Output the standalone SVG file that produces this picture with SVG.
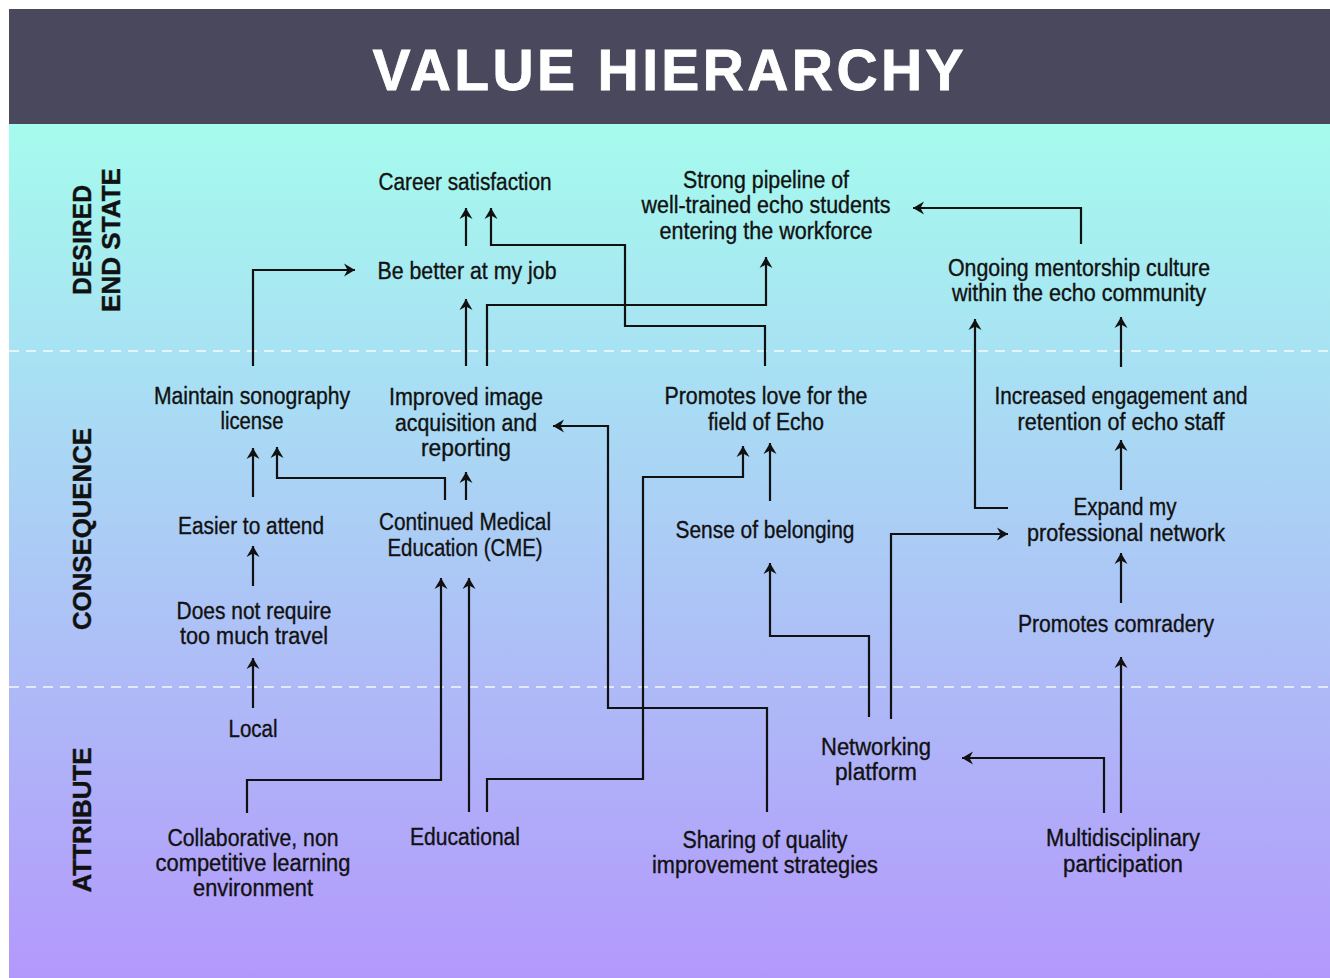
<svg xmlns="http://www.w3.org/2000/svg" width="1330" height="978" viewBox="0 0 1330 978">
  <defs>
    <linearGradient id="bg" x1="0" y1="124" x2="0" y2="978" gradientUnits="userSpaceOnUse">
      <stop offset="0" stop-color="#a5fbed"/>
      <stop offset="0.27" stop-color="#a8e2f3"/>
      <stop offset="0.66" stop-color="#aebaf7"/>
      <stop offset="1" stop-color="#b398fc"/>
    </linearGradient>
    <marker id="arrow" viewBox="-12 -7 13 14" refX="0" refY="0" markerWidth="13" markerHeight="14" markerUnits="userSpaceOnUse" orient="auto">
      <path d="M0,0 L-11,-6.5 L-7.5,0 L-11,6.5 Z" fill="#111"/>
    </marker>
    <style>
      .node text { font-family: "Liberation Sans", Arial, sans-serif; font-size: 23.5px; fill: #111; stroke: #111; stroke-width: 0.35px; text-anchor: middle; }
      .band { font-family: "Liberation Sans", Arial, sans-serif; font-weight: bold; font-size: 26px; fill: #111; stroke: #111; stroke-width: 0.4px; text-anchor: middle; }
      .title { font-family: "Liberation Sans", Arial, sans-serif; font-weight: bold; font-size: 57px; fill: #ffffff; stroke: #ffffff; stroke-width: 0.8px; text-anchor: middle; }
      .divider { stroke: #ffffff; stroke-width: 1.6; stroke-dasharray: 10 7; opacity: 0.9; }
      #connectors path { fill: none; stroke: #111; stroke-width: 2.2; }
      #connectors path.arr { marker-end: url(#arrow); }
    </style>
  </defs>

  <!-- page and bands -->
  <rect x="0" y="0" width="1330" height="978" fill="#ffffff"/>
  <rect x="9" y="124" width="1321" height="854" fill="url(#bg)"/>
  <rect x="9" y="9" width="1321" height="115" fill="#4a485c"/>
  <text class="title" x="668" y="90" textLength="591" lengthAdjust="spacing">VALUE HIERARCHY</text>

  <line class="divider" x1="9" y1="351" x2="1330" y2="351"/>
  <line class="divider" x1="9" y1="687" x2="1330" y2="687"/>

  <!-- level labels -->
  <g id="levels">
    <text class="band" transform="translate(91,240) rotate(-90)" textLength="110" lengthAdjust="spacingAndGlyphs">DESIRED</text>
    <text class="band" transform="translate(120,240) rotate(-90)" textLength="144" lengthAdjust="spacingAndGlyphs">END STATE</text>
    <text class="band" transform="translate(91,529) rotate(-90)" textLength="202" lengthAdjust="spacingAndGlyphs">CONSEQUENCE</text>
    <text class="band" transform="translate(91,820) rotate(-90)" textLength="145" lengthAdjust="spacingAndGlyphs">ATTRIBUTE</text>
  </g>

  <!-- connectors -->
  <g id="connectors">
    <path class="arr" d="M466,246 V208"/>
    <path class="arr" d="M765,366 V326 H625 V245 H491 V208"/>
    <path class="arr" d="M466,366 V299"/>
    <path class="arr" d="M487,366 V305 H766 V257"/>
    <path class="arr" d="M253,366 V270 H355"/>
    <path class="arr" d="M1081,244 V208 H913"/>
    <path class="arr" d="M1121,367 V317"/>
    <path class="arr" d="M1008,508 H975 V319"/>
    <path class="arr" d="M1121,490 V440"/>
    <path class="arr" d="M1121,603 V553"/>
    <path class="arr" d="M1121,813 V657"/>
    <path class="arr" d="M1104,813 V758 H962"/>
    <path class="arr" d="M891,719 V534 H1008"/>
    <path class="arr" d="M869,717 V636 H770 V563"/>
    <path class="arr" d="M770,501 V443"/>
    <path class="arr" d="M487,812 V779 H643 V477 H743 V446"/>
    <path class="arr" d="M767,812 V708 H608 V426 H553"/>
    <path class="arr" d="M469,812 V578"/>
    <path class="arr" d="M247,813 V780 H441 V578"/>
    <path class="arr" d="M466,500 V472"/>
    <path class="arr" d="M445,500 V478 H277 V447"/>
    <path class="arr" d="M253,497 V448"/>
    <path class="arr" d="M253,586 V546"/>
    <path class="arr" d="M253,708 V658"/>
  </g>

  <!-- desired end state -->
  <g id="career-satisfaction" class="node">
    <text x="465" y="190" textLength="173" lengthAdjust="spacingAndGlyphs">Career satisfaction</text>
  </g>
  <g id="better-at-job" class="node">
    <text x="467" y="279" textLength="179" lengthAdjust="spacingAndGlyphs">Be better at my job</text>
  </g>
  <g id="strong-pipeline" class="node">
    <text x="766" y="188" textLength="166" lengthAdjust="spacingAndGlyphs">Strong pipeline of</text>
    <text x="766" y="213" textLength="249" lengthAdjust="spacingAndGlyphs">well-trained echo students</text>
    <text x="766" y="239" textLength="213" lengthAdjust="spacingAndGlyphs">entering the workforce</text>
  </g>
  <g id="mentorship-culture" class="node">
    <text x="1079" y="276" textLength="262" lengthAdjust="spacingAndGlyphs">Ongoing mentorship culture</text>
    <text x="1079" y="301" textLength="254" lengthAdjust="spacingAndGlyphs">within the echo community</text>
  </g>

  <!-- consequences -->
  <g id="maintain-license" class="node">
    <text x="252" y="404" textLength="196" lengthAdjust="spacingAndGlyphs">Maintain sonography</text>
    <text x="252" y="429" textLength="63" lengthAdjust="spacingAndGlyphs">license</text>
  </g>
  <g id="improved-image" class="node">
    <text x="466" y="405" textLength="154" lengthAdjust="spacingAndGlyphs">Improved image</text>
    <text x="466" y="431" textLength="142" lengthAdjust="spacingAndGlyphs">acquisition and</text>
    <text x="466" y="456" textLength="90" lengthAdjust="spacingAndGlyphs">reporting</text>
  </g>
  <g id="love-for-echo" class="node">
    <text x="766" y="404" textLength="203" lengthAdjust="spacingAndGlyphs">Promotes love for the</text>
    <text x="766" y="430" textLength="116" lengthAdjust="spacingAndGlyphs">field of Echo</text>
  </g>
  <g id="engagement-retention" class="node">
    <text x="1121" y="404" textLength="253" lengthAdjust="spacingAndGlyphs">Increased engagement and</text>
    <text x="1121" y="430" textLength="207" lengthAdjust="spacingAndGlyphs">retention of echo staff</text>
  </g>
  <g id="easier-to-attend" class="node">
    <text x="251" y="534" textLength="146" lengthAdjust="spacingAndGlyphs">Easier to attend</text>
  </g>
  <g id="cme" class="node">
    <text x="465" y="530" textLength="172" lengthAdjust="spacingAndGlyphs">Continued Medical</text>
    <text x="465" y="556" textLength="155" lengthAdjust="spacingAndGlyphs">Education (CME)</text>
  </g>
  <g id="sense-of-belonging" class="node">
    <text x="765" y="538" textLength="179" lengthAdjust="spacingAndGlyphs">Sense of belonging</text>
  </g>
  <g id="expand-network" class="node">
    <text x="1125" y="515" textLength="103" lengthAdjust="spacingAndGlyphs">Expand my</text>
    <text x="1126" y="541" textLength="198" lengthAdjust="spacingAndGlyphs">professional network</text>
  </g>
  <g id="less-travel" class="node">
    <text x="254" y="619" textLength="155" lengthAdjust="spacingAndGlyphs">Does not require</text>
    <text x="254" y="644" textLength="148" lengthAdjust="spacingAndGlyphs">too much travel</text>
  </g>
  <g id="comradery" class="node">
    <text x="1116" y="632" textLength="196" lengthAdjust="spacingAndGlyphs">Promotes comradery</text>
  </g>

  <!-- attributes -->
  <g id="local" class="node">
    <text x="253" y="737" textLength="49" lengthAdjust="spacingAndGlyphs">Local</text>
  </g>
  <g id="networking-platform" class="node">
    <text x="876" y="755" textLength="110" lengthAdjust="spacingAndGlyphs">Networking</text>
    <text x="876" y="780" textLength="82" lengthAdjust="spacingAndGlyphs">platform</text>
  </g>
  <g id="collaborative" class="node">
    <text x="253" y="846" textLength="171" lengthAdjust="spacingAndGlyphs">Collaborative, non</text>
    <text x="253" y="871" textLength="195" lengthAdjust="spacingAndGlyphs">competitive learning</text>
    <text x="253" y="896" textLength="120" lengthAdjust="spacingAndGlyphs">environment</text>
  </g>
  <g id="educational" class="node">
    <text x="465" y="845" textLength="110" lengthAdjust="spacingAndGlyphs">Educational</text>
  </g>
  <g id="quality-sharing" class="node">
    <text x="765" y="848" textLength="165" lengthAdjust="spacingAndGlyphs">Sharing of quality</text>
    <text x="765" y="873" textLength="226" lengthAdjust="spacingAndGlyphs">improvement strategies</text>
  </g>
  <g id="multidisciplinary" class="node">
    <text x="1123" y="846" textLength="154" lengthAdjust="spacingAndGlyphs">Multidisciplinary</text>
    <text x="1123" y="872" textLength="120" lengthAdjust="spacingAndGlyphs">participation</text>
  </g>
</svg>
